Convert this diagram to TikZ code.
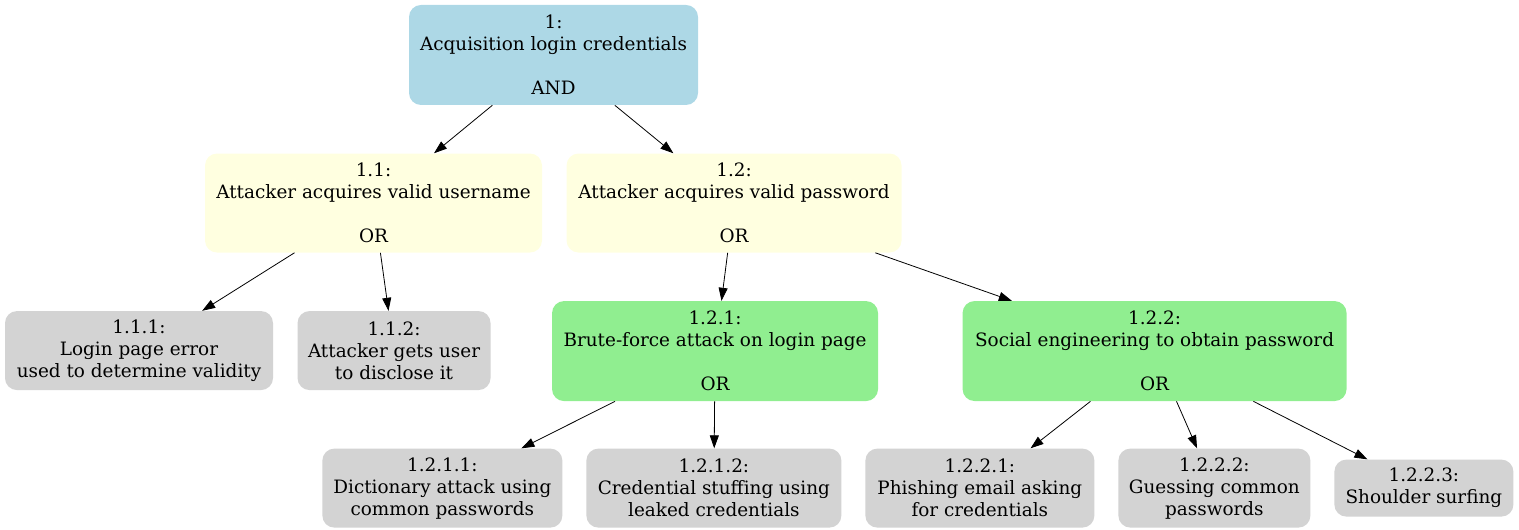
\documentclass[tikz,border=0pt]{standalone}
\usepackage{fontspec}
\setmainfont{DejaVu Serif}
\usepackage{tikz}
\usepackage{xcolor}
\usetikzlibrary{positioning}
\usetikzlibrary{arrows.meta}

\definecolor{rootBlue}{HTML}{ADD8E6}
\definecolor{orYellow}{HTML}{FFFFE0}
\definecolor{leafGray}{HTML}{D3D3D3}
\definecolor{subGreen}{HTML}{90EE90}

\begin{document}
\begin{tikzpicture}[x=0.75pt, y=-0.75pt, font=\fontsize{13.8}{16.5}\selectfont]
            % Set primary nodes
            \tikzset{
                treeNode/.style={
                        rectangle,
                        rounded corners=9pt,
                        inner sep=0pt,
                        align=center
                    }
            }
            \tikzset{
                rootNode/.style={
                        treeNode,
                        fill=rootBlue,
                        minimum height=75pt
                    }
            }
            \tikzset{
                orNode/.style={
                        treeNode,
                        fill=orYellow,
                        minimum height=74.25pt
                    }
            }
            \tikzset{
                subNode/.style={
                        treeNode,
                        fill=subGreen,
                        minimum height=75pt
                    }
            }
            \tikzset{
                leafNode/.style={
                        treeNode,
                        fill=leafGray,
                        minimum height=59.25pt
                    }
            }
            \tikzset{
                shortLeafNode/.style={
                        treeNode,
                        fill=leafGray,
                        minimum height=42.75pt
                    }
            }
            % Configure arrows
            \tikzset{
                treeArrow/.style={
                        line width=0.6pt,
                        -{Triangle[length=9.75pt, width=6.75pt]}
                    }
            }
            \useasboundingbox (0,0) rectangle (1519,530);
            % Placing nodes
            \node[rootNode, minimum width=216.75pt](root) at (553.5,55){1:\\Acquisition login credentials\\[16.5pt]AND};
            \node[orNode, minimum width=252.75pt, below = 36pt of root, xshift = -135pt](user){1.1:\\Attacker acquires valid username\\[16.5pt]OR};
            \node[orNode, minimum width=251.25pt, right = 18pt of user](pass){1.2:\\Attacker acquires valid password\\[16.5pt]OR};
            \node[leafNode, minimum width=201pt, below = 43.5pt of user, xshift = -175.875pt](loginerr){1.1.1:\\Login page error\\used to determine validity};
            \node[leafNode, minimum width=144.75pt, right = 18pt of loginerr](disclose){1.1.2:\\Attacker gets user\\to disclose it};
            \node[subNode, minimum width=244.5pt, below = 36pt of pass, xshift = -14.25pt](brute){1.2.1:\\Brute-force attack on login page\\[16.5pt]OR};
            \node[subNode, minimum width=288pt, right = 63pt of brute](social){1.2.2:\\Social engineering to obtain password\\[16.5pt]OR};
            \node[leafNode, minimum width=180pt, below = 35.25pt of brute, xshift = -204.5pt](dict){1.2.1.1:\\Dictionary attack using\\common passwords};
            \node[leafNode, minimum width=191.25pt, right = 17.6pt of dict](stuffing){1.2.1.2:\\Credential stuffing using\\leaked credentials};
            \node[leafNode, minimum width=171.75pt, right = 17.6pt of stuffing](phishing){1.2.2.1:\\Phishing email asking\\for credentials};
            \node[leafNode, minimum width=144pt, right = 17.6pt of phishing](guessing){1.2.2.2:\\Guessing common\\passwords};
            \node[shortLeafNode, minimum width=134.25pt, right = 17.6pt of guessing](shoulder){1.2.2.3:\\Shoulder surfing};
            % Draw arrows
            \draw[treeArrow](root) -- (user);
            \draw[treeArrow](root) -- (pass);
            \draw[treeArrow](user) -- (loginerr);
            \draw[treeArrow](user) -- (disclose);
            \draw[treeArrow](pass) -- (brute);
            \draw[treeArrow](pass) -- (social);
            \draw[treeArrow](brute) -- (dict);
            \draw[treeArrow](brute) -- (stuffing);
            \draw[treeArrow](social) -- (phishing);
            \draw[treeArrow](social) -- (guessing);
            \draw[treeArrow](social) -- (shoulder);
        \end{tikzpicture}
\end{document}
